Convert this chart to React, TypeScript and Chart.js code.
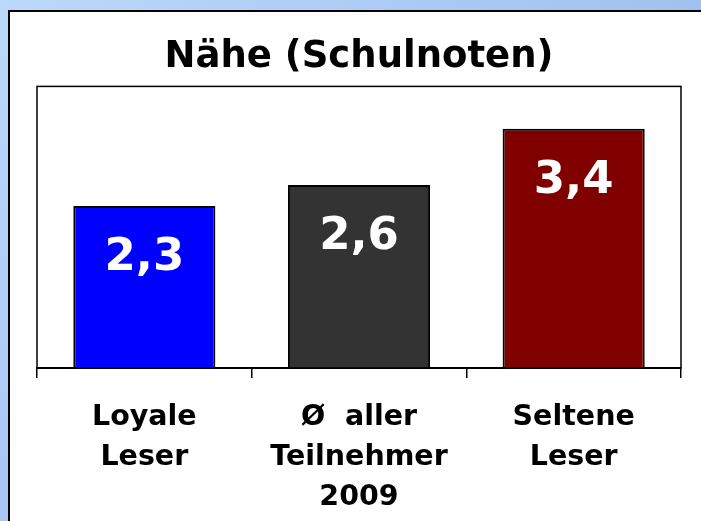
import React, { useEffect, useRef } from "react";
import { Chart, registerables } from "chart.js";

Chart.register(...registerables);

const titleText = "Nähe (Schulnoten)";
const categories: string[][] = [
  ["Loyale", "Leser"],
  ["Ø  aller", "Teilnehmer", "2009"],
  ["Seltene", "Leser"],
];
const values: number[] = [2.3, 2.6, 3.4];
const barColors: string[] = ["#0000ff", "#333333", "#800000"];
const yMin = 0;
const yMax = 4;

const FONT = "'DejaVu Sans', Verdana, sans-serif";

const plotBorder = {
  id: "plotBorder",
  afterDraw(chart: any) {
    const { ctx, chartArea } = chart;
    ctx.save();
    ctx.strokeStyle = "#000";
    ctx.lineWidth = 1.5;
    ctx.strokeRect(chartArea.left, chartArea.top, chartArea.right - chartArea.left, chartArea.bottom - chartArea.top);
    ctx.restore();
  },
};

const valueLabels = {
  id: "valueLabels",
  afterDatasetsDraw(chart: any) {
    const { ctx } = chart;
    const meta = chart.getDatasetMeta(0);
    ctx.save();
    ctx.fillStyle = "#ffffff";
    ctx.font = `bold 45px ${FONT}`;
    ctx.textAlign = "center";
    ctx.textBaseline = "alphabetic";
    meta.data.forEach((bar: any, i: number) => {
      const txt = values[i].toFixed(1).replace(".", ",");
      ctx.fillText(txt, bar.x, bar.y + 64);
    });
    ctx.restore();
  },
};

export default function App() {
  const ref = useRef<HTMLCanvasElement | null>(null);
  useEffect(() => {
    if (!ref.current) return;
    const chart = new Chart(ref.current, {
      type: "bar",
      data: {
        labels: categories,
        datasets: [
          {
            data: values,
            backgroundColor: barColors,
            borderColor: "#000",
            borderWidth: 2,
            barPercentage: 0.662,
            categoryPercentage: 1,
          },
        ],
      },
      options: {
        responsive: false,
        animation: false,
        layout: { padding: { left: 37, right: 20, top: 0, bottom: 3 } },
        plugins: {
          legend: { display: false },
          tooltip: { enabled: false },
          title: {
            display: true,
            text: titleText,
            fullSize: false,
            color: "#000",
            font: { family: FONT, size: 37, weight: "bold" },
            padding: { top: 35, bottom: 7 },
          },
        },
        scales: {
          x: {
            afterFit(scale: any) {
              scale.height = 150;
            },
            grid: {
              display: true,
              drawOnChartArea: false,
              drawTicks: true,
              tickLength: 10,
              color: "#000",
              lineWidth: 1.5,
              offset: true,
            },
            border: { display: true, color: "#000", width: 2 },
            ticks: {
              color: "#000",
              padding: 20,
              maxRotation: 0,
              autoSkip: false,
              font: { family: FONT, size: 28.5, weight: "bold", lineHeight: 40 / 28.5 },
            },
          },
          y: {
            display: false,
            min: yMin,
            max: yMax,
          },
        },
      },
      plugins: [plotBorder, valueLabels],
    });
    return () => chart.destroy();
  }, []);

  return (
    <div
      style={{
        position: "fixed",
        left: 0,
        top: 0,
        width: 701,
        height: 521,
        overflow: "hidden",
        background: "linear-gradient(135deg, #bcd8fb 0%, #a4c4f0 50%, #90b2e4 100%)",
      }}
    >
      <div
        style={{
          position: "absolute",
          left: 8,
          top: 10,
          width: 720,
          height: 540,
          background: "#fff",
          border: "2px solid #000",
        }}
      />
      <canvas
        ref={ref}
        width={701}
        height={521}
        style={{ position: "absolute", left: 0, top: 0 }}
      />
    </div>
  );
}
